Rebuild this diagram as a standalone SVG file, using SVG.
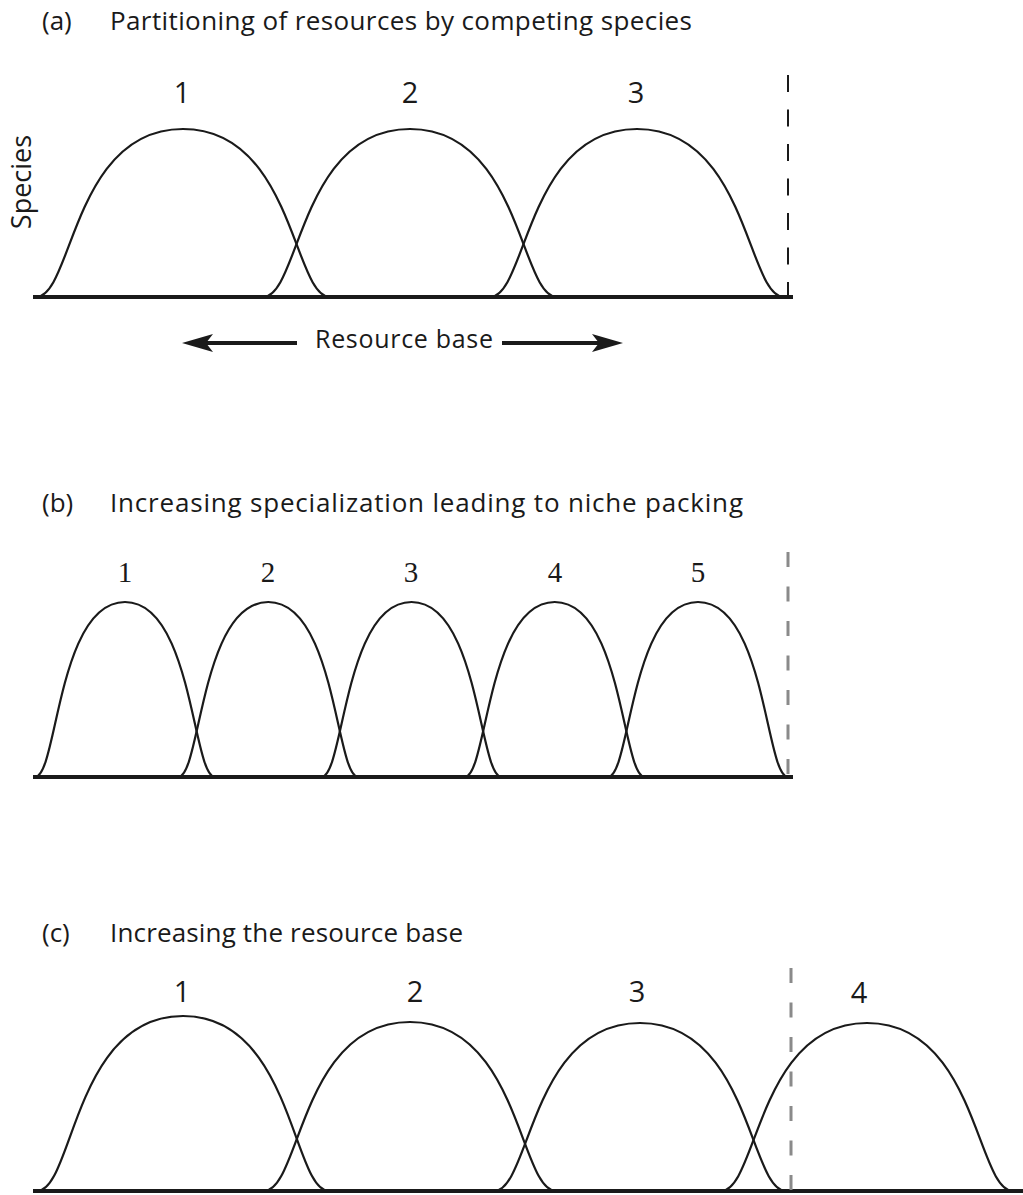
<svg xmlns="http://www.w3.org/2000/svg" width="1023" height="1195" viewBox="0 0 1023 1195">
<style>
.t{font-family:"Open Sans","Noto Sans",sans-serif;font-size:26px;fill:#1a1a1a}
.n{font-family:"Open Sans","Noto Sans",sans-serif;font-size:29px;fill:#1a1a1a;text-anchor:middle}
.ns{font-family:"Liberation Serif",serif;font-size:29px;fill:#1a1a1a;text-anchor:middle}
.c{fill:none;stroke:#1a1a1a;stroke-width:2.2}
.base{stroke:#1a1a1a;stroke-width:3.8}
.dk{stroke:#1a1a1a;stroke-width:2;stroke-dasharray:17 17.5}
.dg{stroke:#8a8a8a;stroke-width:3;stroke-dasharray:15 19.5}
.ar{stroke:#1a1a1a;stroke-width:4}
</style>
<rect width="1023" height="1195" fill="#fff"/>

<g id="panel-a">
  <text class="t" x="42" y="30">(a)</text>
  <text class="t" x="110" y="30" textLength="582">Partitioning of resources by competing species</text>
  <text class="t" transform="translate(31,182) rotate(-90)" text-anchor="middle" style="font-size:27px">Species</text>
  <line class="base" x1="33" y1="297" x2="793" y2="297"/>
  <line class="dk" x1="788" y1="75" x2="788" y2="297"/>
  <g id="a-species-1">
    <path class="c" d="M36 297 C72.75 297 72.75 129 183 129 C293.25 129 293.25 297 330 297"/>
    <text class="n" x="182" y="103">1</text>
  </g>
  <g id="a-species-2">
    <path class="c" d="M263 297 C299.75 297 299.75 129 410 129 C520.25 129 520.25 297 557 297"/>
    <text class="n" x="410" y="103">2</text>
  </g>
  <g id="a-species-3">
    <path class="c" d="M490 297 C526.75 297 526.75 129 637 129 C747.25 129 747.25 297 784 297"/>
    <text class="n" x="636" y="103">3</text>
  </g>
  <g id="a-axis-label">
    <text class="t" x="315" y="348" textLength="178" style="font-size:25px">Resource base</text>
  </g>
  <g id="connectors">
    <line class="ar" x1="205" y1="343" x2="297" y2="343"/>
    <polygon points="182,343 213,334 206,343 213,352" fill="#1a1a1a"/>
    <line class="ar" x1="502" y1="343" x2="600" y2="343"/>
    <polygon points="623,343 592,334 599,343 592,352" fill="#1a1a1a"/>
  </g>
</g>

<g id="panel-b">
  <text class="t" x="42" y="512">(b)</text>
  <text class="t" x="110" y="512" textLength="633">Increasing specialization leading to niche packing</text>
  <line class="base" x1="33" y1="777" x2="793" y2="777"/>
  <line class="dg" x1="788" y1="552" x2="788" y2="777"/>
  <g id="b-species-1">
    <path class="c" d="M35 777 C57.5 777 57.5 602 125 602 C192.5 602 192.5 777 215 777"/>
    <text class="ns" x="125" y="582">1</text>
  </g>
  <g id="b-species-2">
    <path class="c" d="M178.25 777 C200.75 777 200.75 602 268.25 602 C335.75 602 335.75 777 358.25 777"/>
    <text class="ns" x="268" y="582">2</text>
  </g>
  <g id="b-species-3">
    <path class="c" d="M321.5 777 C344 777 344 602 411.5 602 C479 602 479 777 501.5 777"/>
    <text class="ns" x="411" y="582">3</text>
  </g>
  <g id="b-species-4">
    <path class="c" d="M464.75 777 C487.25 777 487.25 602 554.75 602 C622.25 602 622.25 777 644.75 777"/>
    <text class="ns" x="555" y="582">4</text>
  </g>
  <g id="b-species-5">
    <path class="c" d="M608 777 C630.5 777 630.5 602 698 602 C765.5 602 765.5 777 788 777"/>
    <text class="ns" x="698" y="582">5</text>
  </g>
</g>

<g id="panel-c">
  <text class="t" x="42" y="942">(c)</text>
  <text class="t" x="110" y="942" textLength="353">Increasing the resource base</text>
  <line class="base" x1="33" y1="1191" x2="1023" y2="1191"/>
  <line class="dg" x1="791" y1="968" x2="791" y2="1191"/>
  <g id="c-species-1">
    <path class="c" d="M37 1191 C73.5 1191 73.5 1016 183 1016 C292.5 1016 292.5 1191 329 1191"/>
    <text class="n" x="182" y="1002">1</text>
  </g>
  <g id="c-species-2">
    <path class="c" d="M264 1191 C300.5 1191 300.5 1022 410 1022 C519.5 1022 519.5 1191 556 1191"/>
    <text class="n" x="415" y="1002">2</text>
  </g>
  <g id="c-species-3">
    <path class="c" d="M494 1191 C530.5 1191 530.5 1023 640 1023 C749.5 1023 749.5 1191 786 1191"/>
    <text class="n" x="637" y="1002">3</text>
  </g>
  <g id="c-species-4">
    <path class="c" d="M721 1191 C757.5 1191 757.5 1023 867 1023 C976.5 1023 976.5 1191 1013 1191"/>
    <text class="n" x="859" y="1003">4</text>
  </g>
</g>
</svg>
